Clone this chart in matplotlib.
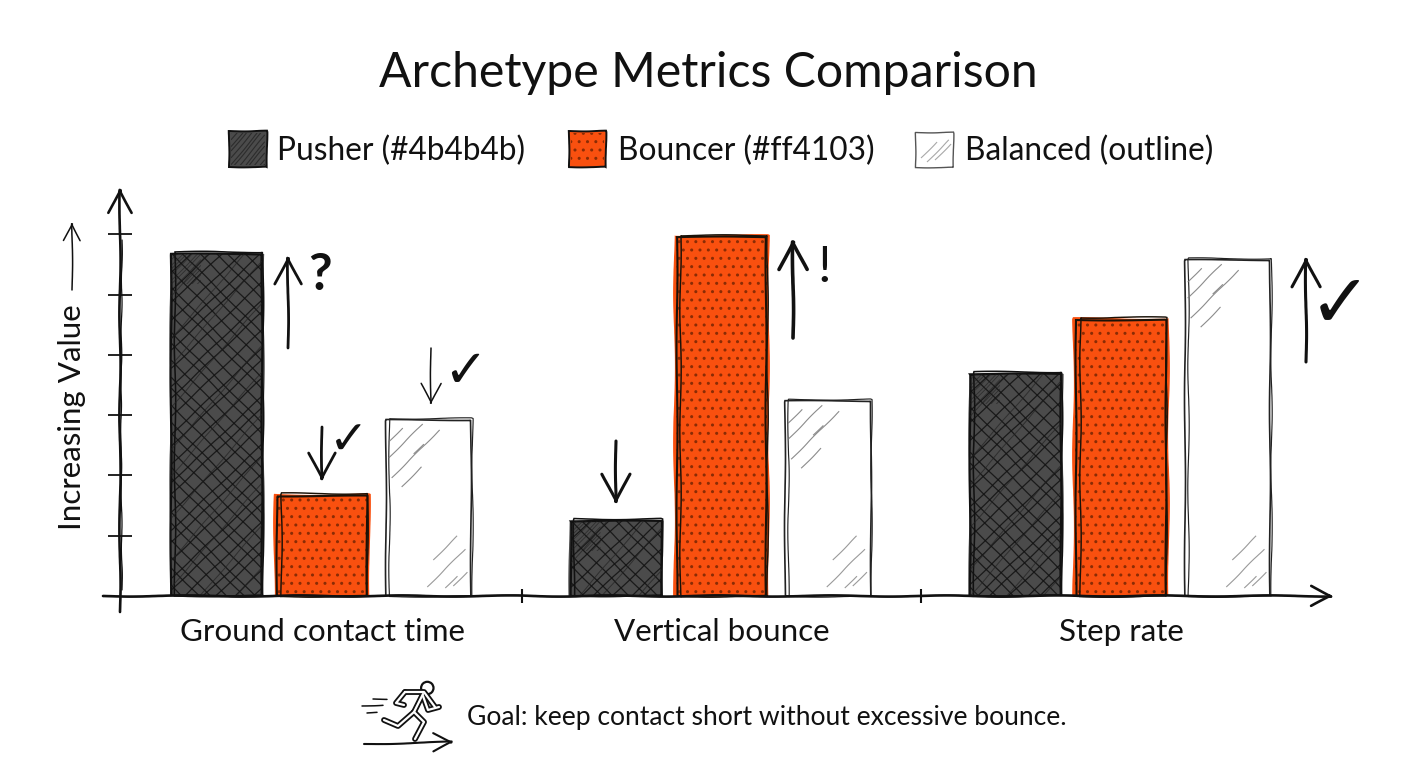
import numpy as np
import matplotlib
matplotlib.use('Agg')
import matplotlib.pyplot as plt
from matplotlib.collections import LineCollection
from matplotlib.patches import Rectangle, Circle

categories = ['Ground contact time', 'Vertical bounce', 'Step rate']
pusher = [5.67, 1.24, 3.68]
bouncer = [1.66, 5.95, 4.58]
balanced = [2.92, 3.23, 5.57]
y_ticks = [1, 2, 3, 4, 5, 6]
group_ticks = [0.5, 1.5]

title = 'Archetype Metrics Comparison'
legend_labels = ['Pusher (#4b4b4b)', 'Bouncer (#ff4103)', 'Balanced (outline)']
y_label = 'Increasing Value'
goal_text = 'Goal: keep contact short without excessive bounce.'

GREY = '#4b4b4b'
ORANGE = '#f9500f'
INK = '#111111'
HAND = 'Lato'
W, H = 1408, 768

plt.rcParams['font.family'] = [HAND, 'DejaVu Sans']
fig = plt.figure(figsize=(W / 100, H / 100), dpi=100, facecolor='white')

# main axes: zero sits on the baseline, one y unit is about 60 px
ax = fig.add_axes([120 / W, (H - 596) / H, 1213 / W, 408 / H])
ax.set_xlim(-202 / 399.5, 1011 / 399.5)
ax.set_ylim(0, 408 / 60.3)
ax.patch.set_alpha(0)
for s in ax.spines.values():
    s.set_visible(False)

# overlay in pixel coordinates for the sketched annotations
top = fig.add_axes([0, 0, 1, 1], zorder=5)
top.set_xlim(0, W)
top.set_ylim(H, 0)
top.axis('off')


def wobble(artist, scale=1.0, length=90, rand=3):
    artist.set_sketch_params(scale, length, rand)
    return artist


def to_px(x, y):
    px, py = ax.transData.transform((x, y))
    return px, H - py


def bar_box(bar):
    x0, y0 = to_px(bar.get_x(), bar.get_height())
    x1, y1 = to_px(bar.get_x() + bar.get_width(), 0)
    return x0, y0, x1, y1


def hatch(box, slope, step, lw=0.8, color=INK, alpha=0.85):
    # diagonal strokes through box, clipped to it
    x0, y0, x1, y1 = box
    start = y0 - slope * x1 if slope > 0 else y0 - slope * x0
    stop = y1 - slope * x0 if slope > 0 else y1 - slope * x1
    segs = []
    for i, c in enumerate(np.arange(start, stop, step)):
        c = c + (i % 3) * step * 0.14
        segs.append([(x0, slope * x0 + c), (x1, slope * x1 + c)])
    lc = LineCollection(segs, colors=color, linewidths=lw, alpha=alpha)
    top.add_collection(lc)
    lc.set_clip_path(Rectangle((x0, y0), x1 - x0, y1 - y0, transform=top.transData))
    wobble(lc, 0.35, 70, 2)


def streaks(ox, oy, strokes, lw=0.8, color='#777777', alpha=0.85):
    # loose pencil strokes rising to the right, (dx, dy, length) from a corner
    segs = [[(ox + dx, oy + dy), (ox + dx + n, oy + dy - n)] for dx, dy, n in strokes]
    lc = LineCollection(segs, colors=color, linewidths=lw, alpha=alpha)
    top.add_collection(lc)
    wobble(lc, 0.3, 50, 2)


def arrow(x0, y0, x1, y1, lw=1.5, head=28, scale=0.6):
    a = top.annotate('', xy=(x1, y1), xytext=(x0, y0),
                     arrowprops=dict(arrowstyle='->,head_length=0.55,head_width=0.28', lw=lw,
                                     color=INK, mutation_scale=head,
                                     shrinkA=0, shrinkB=0))
    wobble(a.arrow_patch, scale, 120, 2)
    return a


def stroke(xs, ys, lw=1.5, color=INK, scale=0.4):
    line, = top.plot(xs, ys, color=color, lw=lw, solid_capstyle='round', solid_joinstyle='round')
    if scale:
        wobble(line, scale, 60, 2)
    return line


x = np.arange(len(categories))
off = 0.2635
width = 0.228

# loose fills that spill a little past the ink
for b in ax.bar(x - off, pusher, width * 1.03, color=GREY, lw=0, clip_on=False, zorder=2):
    wobble(b, 0.7, 160, 2)
for b in ax.bar(x, np.array(bouncer) + 0.03, width * 1.05, color=ORANGE, lw=0, clip_on=False, zorder=2):
    wobble(b, 0.9, 160, 2)
dots = ax.bar(x, bouncer, width, facecolor='none', edgecolor='#8a2c05', lw=0, hatch='..', zorder=3)
ax.bar(x + off + 0.003, balanced, width * 0.955, color='white', lw=0, zorder=2)

# double ink outlines
for values, shift, w, col, lw in [(pusher, -off, width, INK, 1.6),
                                  (bouncer, 0, width * 0.98, '#1a1208', 1.5),
                                  (balanced, off + 0.003, width * 0.94, '#222222', 1.2)]:
    for b in ax.bar(x + shift, values, w, fill=False, edgecolor=col, lw=lw, zorder=4):
        wobble(b, 0.5, 170, 2)
    for b in ax.bar(x + shift + 0.005, np.array(values) + 0.04, w * 0.97, fill=False,
                    edgecolor=col, lw=lw * 0.7, zorder=4, clip_on=False):
        wobble(b, 0.7, 130, 2)

# cross hatching on the grey bars, dense corners
grey_bars = ax.bar(x - off, pusher, width, fill=False, lw=0)
for b in grey_bars:
    box = bar_box(b)
    hatch(box, 1.0, 15, 0.9, INK)
    hatch(box, -0.95, 16, 0.9, INK)
    hatch(box, -1.15, 37, 0.7, '#222222', 0.7)
    hatch((box[0], box[1], box[0] + 30, box[1] + 30), -1.0, 5, 0.6, '#1c1c1c', 0.6)

# sparse shading on the outlined bars
pale_bars = ax.bar(x + off + 0.003, balanced, width * 0.94, fill=False, lw=0)
for b in pale_bars:
    x0, y0, x1, y1 = bar_box(b)
    streaks(x0, y0, [(3, 22, 14), (3, 38, 34), (6, 58, 48), (16, 67, 20), (28, 34, 10)], color='#777777')
    streaks(x1, y1, [(-44, -9, 38), (-38, -36, 24), (-18, -10, 14), (-26, -8, 12)], color='#888888')

# ticks and labels live on the main axes
ax.set_yticks(y_ticks)
ax.set_yticklabels([])
ax.set_xticks(x)
ax.set_xticklabels(categories, fontsize=22.6, color=INK)
ax.set_xticks(group_ticks, minor=True)
ax.tick_params(axis='x', which='major', length=0, pad=16)
ax.tick_params(axis='x', which='minor', length=10, width=1.5, direction='inout', color=INK)
ax.tick_params(axis='y', length=17, width=1.3, direction='inout', color=INK)
for t in ax.yaxis.get_major_ticks():
    wobble(t.tick1line, 0.5, 30, 2)

# axis arrows
arrow(103, 596, 1334, 596, lw=1.9, head=26)
arrow(120, 612, 120, 187, lw=1.9, head=30)
stroke([122, 121, 122], [590, 420, 240], lw=0.9)

top.text(72, 417, y_label, rotation=90, ha='center', va='center', fontsize=22.6, color=INK)
arrow(72, 290, 72, 222, lw=1.1, head=22)

top.text(708, 73, title, ha='center', va='center', fontsize=34.7, color=INK)

# legend swatches
leg_y = 151
sw = [(229, 131, 38, 36), (569, 131, 37, 36), (915, 132, 38, 35)]
for (sx, sy, sw_w, sw_h), col in zip(sw, [GREY, ORANGE, 'white']):
    wobble(top.add_patch(Rectangle((sx, sy), sw_w, sw_h, fc=col, lw=0)), 0.4, 60, 2)
    wobble(top.add_patch(Rectangle((sx, sy), sw_w, sw_h, fill=False, ec=INK if col != 'white' else '#555555',
                                   lw=1.4 if col != 'white' else 1.0)), 0.4, 60, 2)
hatch((231, 133, 265, 165), -1.2, 6, 0.8, '#222222', 0.75)
top.add_patch(Rectangle((571, 133), 33, 32, fill=False, ec='#8a2c05', lw=0, hatch='..'))
streaks(915, 132, [(6, 26, 16), (12, 30, 22), (20, 28, 16)], color='#999999')
for lx, lab in zip([277, 618, 965], legend_labels):
    top.text(lx, leg_y, lab, ha='left', va='center', fontsize=22.8, color=INK)

# value change cues above the bars
arrow(288, 348, 288, 255, lw=2.0, head=34)
arrow(322, 427, 322, 482, lw=2.0, head=34)
arrow(431, 348, 431, 405, lw=1.1, head=26)
arrow(616, 441, 616, 505, lw=2.2, head=36)
arrow(793, 338, 793, 238, lw=2.6, head=36)
arrow(1306, 362, 1306, 256, lw=2.2, head=36)
top.text(320, 275, '?', ha='center', va='center', fontsize=37, fontweight='bold', color=INK)
top.text(824, 268, '!', ha='center', va='center', fontsize=37, color=INK)
for cx, cy, fs in [(349, 442, 34), (465, 372, 38), (1340, 306, 54)]:
    top.text(cx, cy, '\u2713', ha='center', va='center', fontsize=fs, fontweight='bold',
             family='DejaVu Sans', color=INK)

# little runner next to the goal
limbs = [([405, 424, 435], [692, 692, 707]),
         ([405, 396, 404], [692, 703, 705]),
         ([423, 428, 439], [696, 710, 707]),
         ([414, 398, 384], [712, 726, 720]),
         ([414, 424, 415], [712, 722, 739]),
         ([423, 414], [694, 712])]
for xs, ys in limbs:
    stroke(xs, ys, lw=4.2, scale=0)
for xs, ys in limbs:
    stroke(xs, ys, lw=1.6, color='white', scale=0)
top.add_patch(Circle((427.3, 688), 6.2, fc='white', ec=INK, lw=1.6))
stroke([373, 387], [699, 699], lw=1.1)
stroke([362, 383], [706, 705], lw=1.1)
stroke([367, 377], [713, 712], lw=1.1)
arrow(364, 744, 454, 742, lw=1.5, head=24)
top.text(467, 717, goal_text, ha='left', va='center', fontsize=19.1, color=INK)

fig.savefig('out.png', dpi=100)
